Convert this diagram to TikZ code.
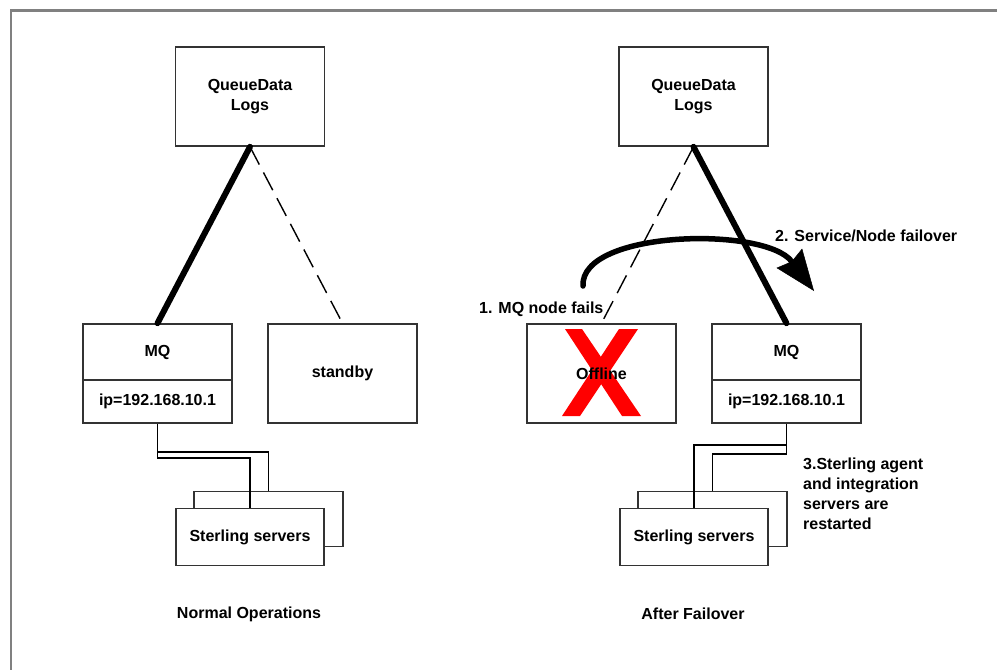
\documentclass[tikz,border=0pt]{standalone}
\usepackage{fontspec}
\setmainfont{Liberation Sans}
\usetikzlibrary{arrows.meta}
\usetikzlibrary{calc}
\usepackage{xcolor}

\begin{document}
\begin{tikzpicture}[x=1pt, y=-1pt,
    hostbox/.style={draw=black!80, line width=1.6pt, inner sep=0pt, minimum width=149pt,
      font=\bfseries\fontsize{16}{20}\selectfont, align=center},
    note/.style={font=\bfseries\fontsize{16}{20}\selectfont, inner sep=0pt, align=left},
    heavy/.style={line width=6pt, line cap=round},
    standbyline/.style={line width=1.4pt, dash pattern=on 20pt off 9pt},
    wire/.style={line width=1.5pt}]

        \useasboundingbox (0,0) rectangle (997,670);

        % Frame
        \draw[gray, line width=2.3pt] (11,670) -- (11,10.5) -- (997,10.5);

        % Logs
        \node[hostbox, minimum height=99pt] (logsL) at (250,96.5) {QueueData\\Logs};
        \node[hostbox, minimum height=99pt] (logsR) at (693.5,96.5) {QueueData\\Logs};

        % MQ nodes
        \foreach \s/\x in {L/157.5,R/786.5}
        {
          \node[hostbox, minimum height=56pt] (mq\s) at (\x,352) {MQ};
          \node[hostbox, minimum height=43pt] (ip\s) at (\x,401.5) {ip=192.168.10.1};
        }

        % Standby and failed node
        \node[hostbox, minimum height=99pt] (standby) at (342.5,373.5) {standby};
        \fill[red] (565,329) -- (582,329) -- (641,416) -- (622,416) -- cycle;
        \fill[red] (619,329) -- (638,329) -- (580,416) -- (562,416) -- cycle;
        \node[hostbox, minimum height=99pt] (offline) at (601.5,373.5) {Offline};

        % Sterling servers
        \foreach \s/\x in {L/250,R/694}
        {
          \node[hostbox, minimum height=55pt] (srvBack\s) at ($(\x,537)+(18.5,-18)$) {};
          \node[hostbox, fill=white, minimum width=148pt, minimum height=57pt] (srv\s) at (\x,537) {Sterling servers};
        }

        % Links to logs
        \draw[heavy] (logsL.south) -- (mqL.north);
        \draw[standbyline] (logsL.south) -- (standby.north);
        \draw[heavy] (logsR.south) -- (mqR.north);
        \draw[standbyline] (logsR.south) -- (offline.north);

        % Links to servers
        \draw[wire] (ipL.south) -- ++(0,28) -| (srvBackL.north);
        \draw[wire] (ipL.south) -- ++(0,34) -| (srvL.north);
        \draw[wire] (ipR.south) -- ++(0,21) -| (srvR.north);
        \draw[wire] (ipR.south) -- ++(0,30) -| (srvBackR.north);

        % Failover
        \coordinate (failFrom) at (583,286);
        \coordinate (failTo) at (814,291);
        \draw[line width=5.5pt, line cap=round,
          -{Stealth[length=41pt, width=32pt, inset=4pt, line width=0.5pt]}]
          (failFrom) .. controls (580,230) and (765,226) .. (failTo);

        % Texts
        \node[note, anchor=west] (failsText) at (479,309) {1. MQ node fails};
        \node[note, anchor=west] (failoverText) at (775,236) {2. Service/Node failover};
        \node[note, anchor=west] (restartText) at (803,494) {3.Sterling agent\\and integration\\servers are\\restarted};
        \node[note] (normalText) at (249,614) {Normal Operations};
        \node[note] (afterText) at (693,614) {After Failover};
    \end{tikzpicture}
\end{document}
